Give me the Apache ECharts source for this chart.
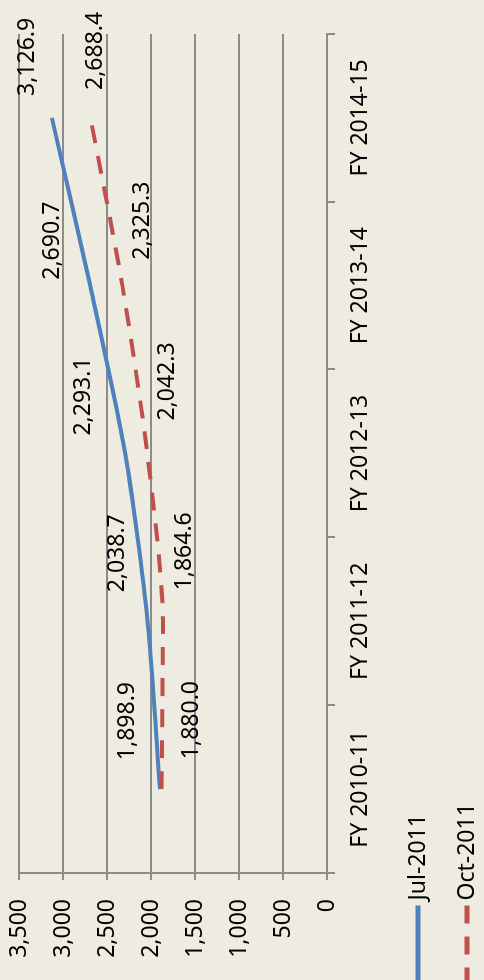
<!DOCTYPE html>
<html>
<head>
<meta charset="utf-8">
<script src="https://cdn.jsdelivr.net/npm/echarts@6/dist/echarts.min.js"></script>
<style>
  html, body { margin: 0; padding: 0; width: 484px; height: 980px; overflow: hidden; background: #EEECE1; }
  /* The chart is laid out landscape and turned a quarter turn counter-clockwise */
  #chart {
    position: absolute; left: 0; top: 0;
    width: 980px; height: 484px;
    transform-origin: 0 0;
    transform: translate(0, 980px) rotate(-90deg);
  }
</style>
</head>
<body>
<div id="chart"></div>
<script>
// Fiscal years on the category axis
const categories = ['FY 2010-11', 'FY 2011-12', 'FY 2012-13', 'FY 2013-14', 'FY 2014-15'];

// Projections from two releases
const jul2011 = [1898.9, 2038.7, 2293.1, 2690.7, 3126.9];
const oct2011 = [1880.0, 1864.6, 2042.3, 2325.3, 2688.4];

const seriesNames = ['Jul-2011', 'Oct-2011'];

// Value axis range and step
const valueMin = 0;
const valueMax = 3500;
const valueStep = 500;

// Where each value label sits relative to its point (layout only)
const julLabelShift = [[68, -32], [68, -30], [57, -42], [45, -38], [61, -24]];
const octLabelShift = [[69, 30], [70, 22], [72, 20], [65, 20], [67, 5]];

const FONT = 'Noto Sans';
const fmt = v => v.toLocaleString('en-US', { minimumFractionDigits: 1, maximumFractionDigits: 1 });

function withLabels(values, shifts) {
  return values.map((v, i) => ({ value: v, label: { offset: shifts[i] } }));
}

const chart = echarts.init(document.getElementById('chart'), null, { renderer: 'canvas' });

const labelBase = {
  show: true,
  position: 'inside',
  align: 'center',
  verticalAlign: 'middle',
  fontFamily: FONT,
  fontSize: 23,
  color: '#000',
  formatter: p => fmt(p.value)
};

chart.setOption({
  backgroundColor: '#EEECE1',
  animation: false,
  grid: { left: 107, right: 34, top: 19, bottom: 157, containLabel: false },
  legend: {
    orient: 'vertical',
    left: -8,
    top: 405,
    padding: 0,
    itemWidth: 80,
    itemHeight: 14,
    itemGap: 23,
    data: seriesNames,
    itemStyle: { opacity: 0 },
    lineStyle: { width: 5 },
    textStyle: { fontFamily: FONT, fontSize: 23, color: '#000', lineHeight: 26 }
  },
  xAxis: {
    type: 'category',
    data: categories,
    boundaryGap: true,
    axisLine: { show: true, lineStyle: { color: '#8C8C8C', width: 2 } },
    axisTick: { show: true, alignWithLabel: false, length: 8, lineStyle: { color: '#8C8C8C', width: 2 } },
    axisLabel: { fontFamily: FONT, fontSize: 23, color: '#000', margin: 22 },
    splitLine: { show: false }
  },
  yAxis: {
    type: 'value',
    min: valueMin,
    max: valueMax,
    interval: valueStep,
    axisLine: { show: true, lineStyle: { color: '#8C8C8C', width: 2 } },
    axisTick: { show: true, length: 7, lineStyle: { color: '#8C8C8C', width: 2 } },
    axisLabel: {
      fontFamily: FONT, fontSize: 23, color: '#000', margin: 26,
      formatter: v => v.toLocaleString('en-US')
    },
    splitLine: { show: true, lineStyle: { color: '#8C8C8C', width: 2 } }
  },
  series: [
    {
      name: seriesNames[0],
      type: 'line',
      data: withLabels(jul2011, julLabelShift),
      smooth: 0.25,
      symbol: 'circle',
      symbolSize: 0.1,
      color: '#4F81BD',
      lineStyle: { color: '#4F81BD', width: 4 },
      label: labelBase
    },
    {
      name: seriesNames[1],
      type: 'line',
      data: withLabels(oct2011, octLabelShift),
      smooth: 0.25,
      symbol: 'circle',
      symbolSize: 0.1,
      color: '#C0504D',
      lineStyle: { color: '#C0504D', width: 4, type: [18, 13] },
      label: labelBase
    }
  ]
});
</script>
</body>
</html>
